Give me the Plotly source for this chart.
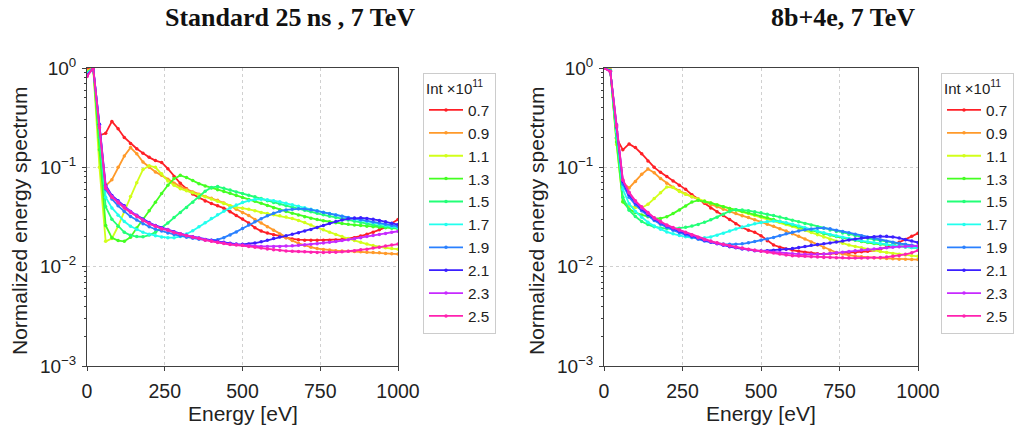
import plotly.graph_objects as go

energy = list(range(0, 1001, 20))
labels = ["0.7", "0.9", "1.1", "1.3", "1.5", "1.7", "1.9", "2.1", "2.3", "2.5"]
colors = ["#ff1f26", "#ff9a2a", "#d2ff1a", "#44ff22", "#22ff77",
          "#22ffee", "#2a80ff", "#3a1fff", "#c72aff", "#ff22b0"]

# ---- Standard 25 ns, 7 TeV ----
std_07 = [0.97, 1.0, 0.21, 0.22, 0.29, 0.245, 0.2, 0.174, 0.154, 0.139, 0.126, 0.117, 0.112, 0.097, 0.081, 0.069, 0.061, 0.054, 0.0495, 0.0458, 0.0432, 0.041, 0.0388, 0.0358, 0.0328, 0.0302, 0.0275, 0.0246, 0.0228, 0.0218, 0.021, 0.0202, 0.0195, 0.019, 0.0187, 0.0185, 0.0185, 0.0185, 0.0185, 0.0185, 0.0186, 0.0188, 0.0191, 0.0196, 0.0203, 0.0212, 0.0222, 0.0235, 0.025, 0.0272, 0.0298]
std_09 = [0.95, 1.0, 0.2, 0.065, 0.075, 0.1, 0.13, 0.158, 0.137, 0.113, 0.1, 0.09, 0.083, 0.076, 0.069, 0.064, 0.06, 0.0565, 0.0535, 0.051, 0.0487, 0.0465, 0.0438, 0.0408, 0.0378, 0.0352, 0.0328, 0.0298, 0.0275, 0.0252, 0.0232, 0.0213, 0.0197, 0.0183, 0.0172, 0.0163, 0.0157, 0.0152, 0.0149, 0.0147, 0.0145, 0.0144, 0.0143, 0.0142, 0.0141, 0.014, 0.0139, 0.0138, 0.0136, 0.0135, 0.0134]
std_11 = [0.92, 1.0, 0.1, 0.018, 0.0192, 0.0255, 0.036, 0.051, 0.07, 0.095, 0.104, 0.1, 0.086, 0.073, 0.066, 0.061, 0.058, 0.0555, 0.053, 0.0505, 0.048, 0.0455, 0.0432, 0.041, 0.0395, 0.0388, 0.0378, 0.0366, 0.0352, 0.0342, 0.0333, 0.0325, 0.0316, 0.0305, 0.0292, 0.0278, 0.0262, 0.0248, 0.0235, 0.0222, 0.0211, 0.0201, 0.0192, 0.0183, 0.0176, 0.0169, 0.0163, 0.0158, 0.0155, 0.0152, 0.015]
std_13 = [0.9, 1.0, 0.15, 0.026, 0.0195, 0.0183, 0.018, 0.0198, 0.0245, 0.0302, 0.0365, 0.0445, 0.0545, 0.066, 0.077, 0.083, 0.079, 0.0735, 0.0685, 0.065, 0.062, 0.0595, 0.0572, 0.0548, 0.0522, 0.0498, 0.0475, 0.0455, 0.0435, 0.0412, 0.0392, 0.0375, 0.036, 0.0345, 0.0332, 0.0318, 0.0308, 0.0298, 0.029, 0.0283, 0.0277, 0.0272, 0.0267, 0.0263, 0.0259, 0.0255, 0.0252, 0.0249, 0.0246, 0.0244, 0.0242]
std_15 = [0.9, 1.0, 0.2, 0.04, 0.03, 0.0255, 0.0222, 0.0207, 0.0201, 0.02, 0.0208, 0.0222, 0.0245, 0.0275, 0.0312, 0.0352, 0.0395, 0.0445, 0.05, 0.0575, 0.0628, 0.064, 0.0615, 0.059, 0.0565, 0.0545, 0.0525, 0.0505, 0.0485, 0.0462, 0.0442, 0.0428, 0.0411, 0.0397, 0.0382, 0.037, 0.0357, 0.0345, 0.0333, 0.0322, 0.0312, 0.0303, 0.0295, 0.0286, 0.0278, 0.0271, 0.0264, 0.0258, 0.0252, 0.0247, 0.0243]
std_17 = [0.88, 1.0, 0.25, 0.05, 0.039, 0.033, 0.0285, 0.0255, 0.0236, 0.0222, 0.0212, 0.0205, 0.0199, 0.0196, 0.0196, 0.0201, 0.0213, 0.023, 0.0252, 0.0277, 0.0305, 0.0333, 0.0362, 0.039, 0.0418, 0.0442, 0.0462, 0.0475, 0.0478, 0.0472, 0.0462, 0.045, 0.0436, 0.0421, 0.0406, 0.0392, 0.0378, 0.0365, 0.0353, 0.0342, 0.0331, 0.0321, 0.0311, 0.0302, 0.0293, 0.0285, 0.0277, 0.0269, 0.0261, 0.0254, 0.0247]
std_19 = [0.85, 1.0, 0.27, 0.06, 0.048, 0.041, 0.036, 0.032, 0.0295, 0.027, 0.0252, 0.0238, 0.0228, 0.0218, 0.0211, 0.0204, 0.0198, 0.0193, 0.0189, 0.0186, 0.0185, 0.0187, 0.0196, 0.0208, 0.0224, 0.0242, 0.0262, 0.0283, 0.0304, 0.0325, 0.0345, 0.0362, 0.0373, 0.0379, 0.0382, 0.0381, 0.0375, 0.0364, 0.0352, 0.0341, 0.0331, 0.0322, 0.0313, 0.0305, 0.0297, 0.029, 0.0282, 0.0275, 0.0267, 0.026, 0.0254]
std_21 = [0.84, 1.0, 0.27, 0.066, 0.052, 0.046, 0.041, 0.036, 0.033, 0.03, 0.0278, 0.026, 0.0246, 0.0236, 0.0225, 0.0215, 0.0207, 0.02, 0.0194, 0.0188, 0.0184, 0.018, 0.0176, 0.0172, 0.0169, 0.0168, 0.0169, 0.0173, 0.0178, 0.0185, 0.0192, 0.0199, 0.0205, 0.0212, 0.022, 0.0228, 0.0237, 0.0248, 0.026, 0.0272, 0.0285, 0.0295, 0.0303, 0.0309, 0.031, 0.0306, 0.03, 0.0292, 0.0283, 0.0273, 0.0265]
std_23 = [0.83, 1.0, 0.26, 0.064, 0.051, 0.045, 0.04, 0.036, 0.0325, 0.0295, 0.0273, 0.0257, 0.0243, 0.0235, 0.0222, 0.0214, 0.0206, 0.0199, 0.0193, 0.0187, 0.0182, 0.0177, 0.0173, 0.0169, 0.0167, 0.0165, 0.0163, 0.0161, 0.016, 0.016, 0.016, 0.016, 0.0161, 0.0162, 0.0164, 0.0166, 0.0168, 0.017, 0.0173, 0.0176, 0.0179, 0.0183, 0.0187, 0.0191, 0.0196, 0.0201, 0.0206, 0.0211, 0.0216, 0.0222, 0.0227]
std_25 = [0.82, 1.0, 0.25, 0.062, 0.05, 0.044, 0.039, 0.035, 0.032, 0.029, 0.027, 0.0255, 0.024, 0.0233, 0.022, 0.0213, 0.0205, 0.0198, 0.0192, 0.0185, 0.018, 0.0175, 0.0171, 0.0167, 0.0165, 0.0163, 0.016, 0.0157, 0.0154, 0.0151, 0.0148, 0.0146, 0.0144, 0.0143, 0.0142, 0.0141, 0.014, 0.0139, 0.0139, 0.014, 0.014, 0.0141, 0.0143, 0.0145, 0.0148, 0.015, 0.0154, 0.0157, 0.0161, 0.0165, 0.0169]

# ---- 8b+4e, 7 TeV ----
b8_07 = [1.0, 0.96, 0.196, 0.15, 0.172, 0.158, 0.137, 0.116, 0.1, 0.089, 0.081, 0.073, 0.066, 0.06, 0.053, 0.048, 0.0435, 0.039, 0.0358, 0.0328, 0.0298, 0.027, 0.0248, 0.0233, 0.0222, 0.0205, 0.0182, 0.0165, 0.0157, 0.0151, 0.0147, 0.0143, 0.014, 0.0137, 0.0135, 0.0134, 0.0135, 0.0136, 0.0137, 0.0138, 0.0139, 0.0141, 0.0143, 0.0146, 0.015, 0.0157, 0.0165, 0.0176, 0.0188, 0.0202, 0.0217]
b8_09 = [1.0, 0.96, 0.2, 0.07, 0.062, 0.072, 0.085, 0.096, 0.088, 0.077, 0.069, 0.063, 0.058, 0.054, 0.0505, 0.0475, 0.0448, 0.0423, 0.04, 0.0378, 0.0358, 0.0342, 0.0326, 0.0312, 0.0297, 0.0282, 0.0268, 0.0255, 0.0241, 0.0228, 0.0215, 0.0202, 0.019, 0.0177, 0.0165, 0.0155, 0.0146, 0.0139, 0.0134, 0.013, 0.0128, 0.0126, 0.0124, 0.0123, 0.0122, 0.0121, 0.012, 0.0119, 0.0119, 0.0118, 0.0118]
b8_11 = [1.0, 0.95, 0.17, 0.045, 0.041, 0.0395, 0.039, 0.0425, 0.0485, 0.0555, 0.0635, 0.0625, 0.0572, 0.0535, 0.0505, 0.048, 0.0458, 0.0438, 0.042, 0.0402, 0.0386, 0.0372, 0.0358, 0.0344, 0.033, 0.0317, 0.0304, 0.0291, 0.0278, 0.0266, 0.0255, 0.0243, 0.0232, 0.0221, 0.021, 0.0199, 0.0189, 0.018, 0.0172, 0.0165, 0.016, 0.0155, 0.015, 0.0146, 0.0142, 0.0139, 0.0136, 0.0133, 0.0131, 0.0129, 0.0127]
b8_13 = [1.0, 0.95, 0.18, 0.045, 0.038, 0.035, 0.0332, 0.0318, 0.0308, 0.0306, 0.0318, 0.0342, 0.0372, 0.0408, 0.0448, 0.0465, 0.0455, 0.0438, 0.0418, 0.04, 0.0386, 0.0374, 0.0362, 0.0348, 0.0335, 0.0322, 0.031, 0.0298, 0.0286, 0.0274, 0.0263, 0.0252, 0.0242, 0.0232, 0.0223, 0.0215, 0.0208, 0.0201, 0.0195, 0.0189, 0.0184, 0.0179, 0.0175, 0.0171, 0.0168, 0.0165, 0.0162, 0.016, 0.0158, 0.0156, 0.0155]
b8_15 = [1.0, 0.94, 0.2, 0.05, 0.037, 0.032, 0.0285, 0.0265, 0.0252, 0.0245, 0.0242, 0.0242, 0.0244, 0.0249, 0.0256, 0.0266, 0.028, 0.0296, 0.0315, 0.0338, 0.0362, 0.0375, 0.0373, 0.0366, 0.0357, 0.0348, 0.0338, 0.0327, 0.0316, 0.0305, 0.0294, 0.0283, 0.0272, 0.0262, 0.0252, 0.0243, 0.0234, 0.0226, 0.0218, 0.0211, 0.0205, 0.0199, 0.0193, 0.0188, 0.0183, 0.0178, 0.0174, 0.017, 0.0166, 0.0163, 0.016]
b8_17 = [1.0, 0.94, 0.23, 0.06, 0.043, 0.036, 0.0315, 0.028, 0.0256, 0.0238, 0.0224, 0.0214, 0.0206, 0.02, 0.0196, 0.0194, 0.0195, 0.0199, 0.0207, 0.0217, 0.0228, 0.024, 0.0251, 0.0261, 0.027, 0.0278, 0.0285, 0.0288, 0.0285, 0.0277, 0.0268, 0.0257, 0.0246, 0.0236, 0.0227, 0.0219, 0.0211, 0.0204, 0.0198, 0.0192, 0.0187, 0.0182, 0.0178, 0.0174, 0.017, 0.0167, 0.0164, 0.0161, 0.0158, 0.0156, 0.0154]
b8_19 = [1.0, 0.93, 0.25, 0.068, 0.05, 0.042, 0.0365, 0.0325, 0.0292, 0.0268, 0.0248, 0.0233, 0.022, 0.0208, 0.0198, 0.0189, 0.0181, 0.0176, 0.0172, 0.0169, 0.0168, 0.0168, 0.017, 0.0174, 0.0179, 0.0184, 0.019, 0.0197, 0.0205, 0.0214, 0.0222, 0.0229, 0.0235, 0.024, 0.0244, 0.0245, 0.0241, 0.0233, 0.0226, 0.0219, 0.0212, 0.0205, 0.0198, 0.0192, 0.0186, 0.018, 0.0176, 0.0172, 0.0168, 0.0164, 0.0161]
b8_21 = [1.0, 0.93, 0.26, 0.072, 0.053, 0.044, 0.038, 0.0338, 0.0302, 0.0277, 0.0256, 0.0241, 0.0228, 0.0216, 0.0204, 0.0194, 0.0185, 0.0177, 0.017, 0.0164, 0.0159, 0.0155, 0.0151, 0.0148, 0.0145, 0.0144, 0.0145, 0.0146, 0.0148, 0.015, 0.0152, 0.0156, 0.016, 0.0164, 0.0167, 0.017, 0.0173, 0.0177, 0.0181, 0.0186, 0.019, 0.0194, 0.0197, 0.02, 0.0202, 0.0202, 0.0199, 0.0194, 0.0187, 0.0181, 0.0175]
b8_23 = [1.0, 0.92, 0.27, 0.074, 0.055, 0.045, 0.039, 0.0345, 0.0308, 0.0282, 0.026, 0.0245, 0.0232, 0.0219, 0.0207, 0.0196, 0.0187, 0.0179, 0.0172, 0.0166, 0.0161, 0.0157, 0.0153, 0.0149, 0.0146, 0.0144, 0.0142, 0.014, 0.0138, 0.0136, 0.0135, 0.0134, 0.0133, 0.0133, 0.0133, 0.0134, 0.0136, 0.0138, 0.014, 0.0142, 0.0145, 0.0147, 0.0149, 0.0151, 0.0153, 0.0155, 0.0157, 0.0159, 0.016, 0.0161, 0.0162]
b8_25 = [1.0, 0.92, 0.26, 0.075, 0.056, 0.046, 0.04, 0.035, 0.031, 0.0285, 0.0263, 0.0248, 0.0235, 0.0222, 0.021, 0.0198, 0.0189, 0.0181, 0.0174, 0.0168, 0.0162, 0.0158, 0.0154, 0.015, 0.0146, 0.0143, 0.014, 0.0137, 0.0134, 0.0131, 0.0129, 0.0128, 0.0127, 0.0126, 0.0125, 0.0124, 0.0124, 0.0123, 0.0123, 0.0122, 0.0122, 0.0122, 0.0122, 0.0123, 0.0124, 0.0125, 0.0127, 0.0129, 0.0133, 0.0138, 0.0146]

std_series = [std_07, std_09, std_11, std_13, std_15, std_17, std_19, std_21, std_23, std_25]
b8_series = [b8_07, b8_09, b8_11, b8_13, b8_15, b8_17, b8_19, b8_21, b8_23, b8_25]

x_ticks = [0, 250, 500, 750, 1000]
y_ticks = [1e-3, 1e-2, 1e-1, 1]
y_ticktext = ["10<sup>\u22123</sup>", "10<sup>\u22122</sup>", "10<sup>\u22121</sup>", "10<sup>0</sup>"]
minor_vals = [m * 10 ** e for e in (-3, -2, -1) for m in range(2, 10)]

titles = ["<b>Standard 25\u202fns , 7 TeV</b>", "<b>8b+4e, 7 TeV</b>"]
x_title = "Energy [eV]"
y_title = "Normalized energy spectrum"

W, H = 1019, 428
fig = go.Figure()

for idx, series in enumerate([std_series, b8_series]):
    xa = "x" if idx == 0 else "x2"
    ya = "y" if idx == 0 else "y2"
    lg = "legend" if idx == 0 else "legend2"
    for lab, col, vals in zip(labels, colors, series):
        fig.add_trace(go.Scatter(
            x=energy, y=vals, mode="lines+markers", name=lab,
            line=dict(color=col, width=1.8),
            marker=dict(color=col, size=3.5),
            xaxis=xa, yaxis=ya, legend=lg,
        ))

font_sans = "Liberation Sans, Arial, sans-serif"
ydom = [1 - 366 / H, 1 - 68 / H]
axis_common = dict(
    showline=True, linecolor="#404040", linewidth=1, mirror=True,
    ticks="outside", ticklen=4, tickcolor="#404040",
    showgrid=True, gridcolor="#d0d0d0", griddash="dot", gridwidth=1,
    zeroline=False, automargin=False,
)
xcommon = dict(axis_common, range=[0, 1000], tickmode="array", tickvals=x_ticks,
               tickfont=dict(size=19.5, color="#222", family=font_sans),
               ticklabelstandoff=4)
ycommon = dict(axis_common, type="log", range=[-3, 0], tickmode="array",
               tickvals=y_ticks, ticktext=y_ticktext,
               tickfont=dict(size=19, color="#222", family=font_sans),
               ticklabelstandoff=2,
               minor=dict(tickmode="array", tickvals=minor_vals, ticks="outside",
                          ticklen=2, tickcolor="#404040", showgrid=False))

legend_common = dict(
    y=1 - 73 / H, xanchor="left", yanchor="top",
    bgcolor="white", bordercolor="#cccccc", borderwidth=1,
    font=dict(size=15.3, color="#222", family=font_sans),
    title=dict(text="Int \u00d710<sup>11</sup>", font=dict(size=15, color="#222", family=font_sans)),
    itemwidth=34, tracegroupgap=0,
)

annots = []
for t, cx in zip(titles, [290, 843]):
    annots.append(dict(text=t, x=cx / W, y=1 - 18 / H, xref="paper", yref="paper",
                       showarrow=False, xanchor="center", yanchor="middle",
                       font=dict(size=26, color="#111", family="Liberation Serif, serif")))
for cx in [242.5, 761]:
    annots.append(dict(text=x_title, x=cx / W, y=1 - 413 / H, xref="paper", yref="paper",
                       showarrow=False, xanchor="center", yanchor="middle",
                       font=dict(size=21, color="#222", family=font_sans)))
for cx in [19, 536]:
    annots.append(dict(text=y_title, x=cx / W, y=1 - 221 / H, xref="paper", yref="paper",
                       showarrow=False, xanchor="center", yanchor="middle", textangle=-90,
                       font=dict(size=21, color="#222", family=font_sans)))

fig.update_layout(
    width=W, height=H,
    margin=dict(l=0, r=0, t=0, b=0),
    paper_bgcolor="white", plot_bgcolor="white",
    xaxis=dict(xcommon, domain=[87 / W, 398 / W], anchor="y"),
    yaxis=dict(ycommon, domain=ydom, anchor="x"),
    xaxis2=dict(xcommon, domain=[604 / W, 918 / W], anchor="y2"),
    yaxis2=dict(ycommon, domain=ydom, anchor="x2"),
    legend=dict(legend_common, x=423 / W),
    legend2=dict(legend_common, x=941 / W),
    annotations=annots,
)

fig.write_html("out.html")
